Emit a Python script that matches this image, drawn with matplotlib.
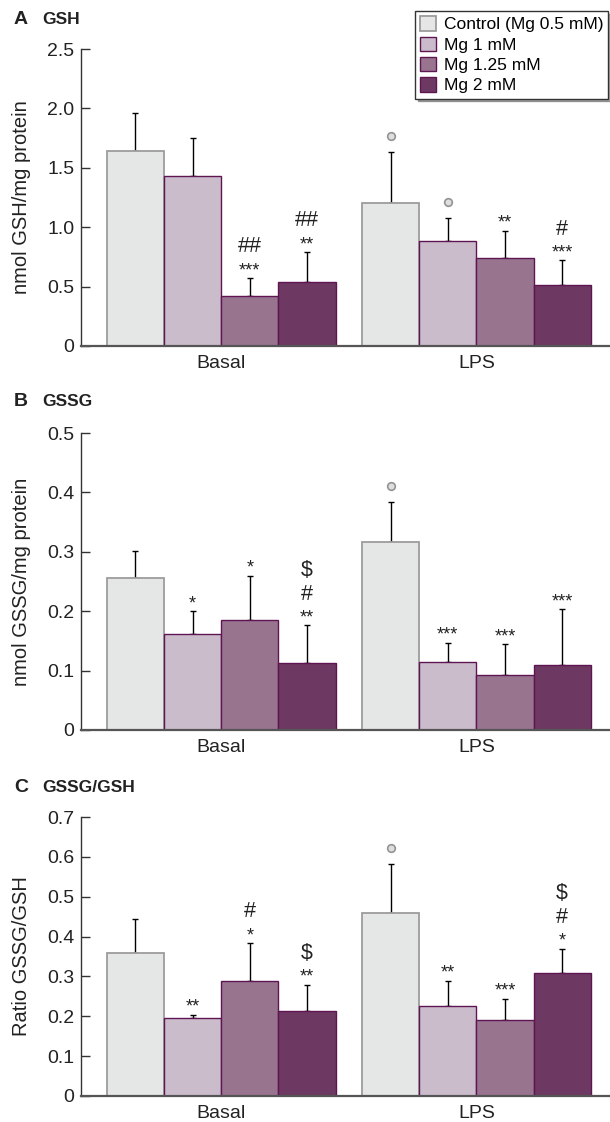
import numpy as np
import matplotlib
matplotlib.use('Agg')
from matplotlib import pyplot as plt
from matplotlib.transforms import ScaledTranslation

plt.rcParams['font.family'] = ['Liberation Sans', 'DejaVu Sans']

groups = ['Basal', 'LPS']
series = ['Control (Mg 0.5 mM)', 'Mg 1 mM', 'Mg 1.25 mM', 'Mg 2 mM']

# means and SD (upper error only), per group, series order as above
gsh_basal = [1.64, 1.43, 0.42, 0.54]
gsh_basal_sd = [0.32, 0.32, 0.15, 0.25]
gsh_lps = [1.20, 0.88, 0.74, 0.51]
gsh_lps_sd = [0.43, 0.20, 0.23, 0.21]

gssg_basal = [0.256, 0.162, 0.185, 0.113]
gssg_basal_sd = [0.045, 0.038, 0.075, 0.063]
gssg_lps = [0.317, 0.115, 0.092, 0.110]
gssg_lps_sd = [0.066, 0.032, 0.052, 0.093]

ratio_basal = [0.360, 0.195, 0.288, 0.214]
ratio_basal_sd = [0.083, 0.009, 0.095, 0.065]
ratio_lps = [0.460, 0.227, 0.190, 0.309]
ratio_lps_sd = [0.123, 0.062, 0.054, 0.061]

# significance marks, bottom to top ('o' = open circle)
gsh_marks = [[[], [], ['***', '##'], ['**', '##']],
             [['o'], ['o'], ['**'], ['***', '#']]]
gssg_marks = [[[], ['*'], ['*'], ['**', '#', '$']],
              [['o'], ['***'], ['***'], ['***']]]
ratio_marks = [[[], ['**'], ['*', '#'], ['**', '$']],
               [['o'], ['**'], ['***'], ['*', '#', '$']]]

fills = ['#e5e7e6', '#cbbccb', '#98748f', '#6d3862']
edges = ['#9c9c9c', '#5e1552', '#5e1552', '#5e1552']

W, H = 610, 1122
fig = plt.figure(figsize=(W / 100, H / 100), dpi=100)

panels = [
    ('A', 'GSH', 'nmol GSH/mg protein', [gsh_basal, gsh_lps], [gsh_basal_sd, gsh_lps_sd],
     gsh_marks, 2.5, [0, 0.5, 1.0, 1.5, 2.0, 2.5], ['0', '0.5', '1.0', '1.5', '2.0', '2.5'],
     (49, 346), 19),
    ('B', 'GSSG', 'nmol GSSG/mg protein', [gssg_basal, gssg_lps], [gssg_basal_sd, gssg_lps_sd],
     gssg_marks, 0.5, [0, 0.1, 0.2, 0.3, 0.4, 0.5], ['0', '0.1', '0.2', '0.3', '0.4', '0.5'],
     (433, 730), 402),
    ('C', 'GSSG/GSH', 'Ratio GSSG/GSH', [ratio_basal, ratio_lps], [ratio_basal_sd, ratio_lps_sd],
     ratio_marks, 0.7, [0, 0.1, 0.2, 0.3, 0.4, 0.5, 0.6, 0.7],
     ['0', '0.1', '0.2', '0.3', '0.4', '0.5', '0.6', '0.7'],
     (817, 1096), 788),
]

bw = 0.224
x0 = np.arange(len(groups))
offsets = (np.arange(len(series)) - 1.5) * bw
left_px = 80.7

# font size and vertical glyph centre (in em) for the marks
mark_size = {'*': 13, '**': 13, '***': 13, '#': 15.5, '##': 15.5, '$': 15.5}
mark_mid = {'*': 0.575, '**': 0.575, '***': 0.575, '#': 0.355, '##': 0.355, '$': 0.345}
stack_px = [13.5, 33.5, 57]

for letter, name, ylab, means, sds, marks, ymax, ticks, ticklabels, (top_px, bot_px), title_px in panels:
    ax = fig.add_axes([left_px / W, 1 - bot_px / H, 1 - left_px / W, (bot_px - top_px) / H])
    for s in range(len(series)):
        vals = [means[g][s] for g in range(len(groups))]
        errs = [sds[g][s] for g in range(len(groups))]
        xs = x0 + offsets[s]
        ax.bar(xs, vals, width=bw, color=fills[s], edgecolor=edges[s],
               linewidth=1.3 if s == 0 else 1.0, label=series[s], zorder=2)
        ax.errorbar(xs, vals, yerr=[np.zeros(len(vals)), errs], fmt='none',
                    ecolor='black', elinewidth=1.0, capsize=2.2, capthick=1.0, zorder=1)
        for g in range(len(groups)):
            top = vals[g] + errs[g]
            for k, m in enumerate(marks[g][s]):
                if m == 'o':
                    shift = ScaledTranslation(0, 16 / 100, fig.dpi_scale_trans)
                    ax.plot([xs[g]], [top], marker='o', markersize=5.5,
                            markerfacecolor='#dedede', markeredgecolor='#939393',
                            markeredgewidth=1.2, linestyle='none', zorder=3,
                            transform=ax.transData + shift)
                else:
                    off = stack_px[k] * 0.72 - mark_mid[m] * mark_size[m]
                    ax.annotate(m, xy=(xs[g], top), xytext=(0, off),
                                textcoords='offset points', ha='center', va='baseline',
                                fontsize=mark_size[m], color='#222222')

    ax.set_xlim((left_px - 221.2) / 255.2, (W - 221.2) / 255.2)
    ax.set_ylim(0, ymax)
    ax.set_yticks(ticks)
    ax.set_yticklabels(ticklabels)
    ax.set_xticks(x0)
    ax.set_xticklabels(groups)
    ax.tick_params(axis='y', direction='in', length=6.5, width=1.0, color='#333333',
                   labelsize=14, pad=4.5, labelcolor='#222222')
    ax.tick_params(axis='x', length=0, labelsize=14, pad=6.5, labelcolor='#222222')
    ax.spines['top'].set_visible(False)
    ax.spines['right'].set_visible(False)
    ax.spines['left'].set_color('#333333')
    ax.spines['left'].set_linewidth(1.0)
    ax.spines['bottom'].set_color('#555555')
    ax.spines['bottom'].set_linewidth(1.6)
    ax.set_ylabel(ylab, fontsize=14.5, color='#222222')
    ax.yaxis.set_label_coords(-(left_px - 31) / (W - left_px), 0.5)

    fig.text(14 / W, 1 - title_px / H, letter, fontsize=14, fontweight='bold',
             va='center', ha='left', color='#222222')
    fig.text(42 / W, 1 - title_px / H, name, fontsize=12.5, fontweight='bold',
             va='center', ha='left', color='#222222')

    if letter == 'A':
        handles, labels = ax.get_legend_handles_labels()
        leg = fig.legend(handles, labels, loc='upper left',
                         bbox_to_anchor=(415 / W, 1 - 11 / H), fontsize=12.5,
                         frameon=True, fancybox=False, shadow=True,
                         edgecolor='#333333', handlelength=0.9, handleheight=0.9,
                         handletextpad=0.45, labelspacing=0.24, borderpad=0.3,
                         borderaxespad=0)
        leg.get_frame().set_linewidth(1.0)

fig.savefig('out.png', dpi=100)
